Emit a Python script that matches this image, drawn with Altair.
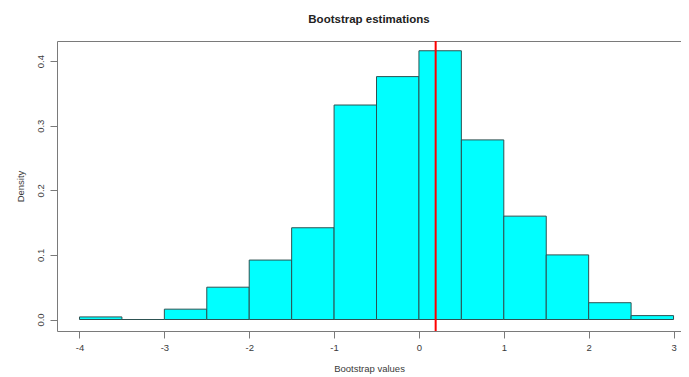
import altair as alt
import pandas as pd

bin_start = [-4.0, -3.5, -3.0, -2.5, -2.0, -1.5, -1.0, -0.5, 0.0, 0.5, 1.0, 1.5, 2.0, 2.5]
density = [0.004, 0.0, 0.016, 0.050, 0.092, 0.142, 0.332, 0.376, 0.416, 0.278, 0.160, 0.100, 0.026, 0.006]
bin_width = 0.5
estimate = 0.197
x_ticks = [-4, -3, -2, -1, 0, 1, 2, 3]
y_ticks = [0.0, 0.1, 0.2, 0.3, 0.4]

df = pd.DataFrame({
    "start": bin_start,
    "end": [b + bin_width for b in bin_start],
    "density": density,
    "zero": [0.0] * len(bin_start),
})

xscale = alt.Scale(domain=[-4.265, 3.088], nice=False, zero=False)
yscale = alt.Scale(domain=[-0.0178, 0.4311], nice=False, zero=False)

FONT = "Liberation Sans"
GREY = "#7a7a7a"
LBL = "#3a3a3a"

bars = alt.Chart(df).mark_rect(
    fill="#00FFFF", stroke="#2e5252", strokeWidth=1
).encode(
    x=alt.X("start:Q", scale=xscale, title="Bootstrap values",
            axis=alt.Axis(values=x_ticks, labelExpr="toString(datum.value)", domain=True,
                          domainColor=GREY, grid=False, tickSize=7, tickColor=GREY,
                          labelPadding=4, labelFontSize=9.5, labelColor=LBL, labelFont=FONT,
                          titleFont=FONT, titleFontSize=9.5, titleFontWeight="normal",
                          titleColor=LBL, titlePadding=12)),
    x2="end:Q",
    y=alt.Y("density:Q", scale=yscale, title="Density",
            axis=alt.Axis(values=y_ticks, format=".1f", domain=True, domainColor=GREY,
                          grid=False, tickSize=7, tickColor=GREY, labelAngle=270,
                          labelAlign="center", labelBaseline="bottom", labelPadding=5,
                          labelFontSize=9.5, labelColor=LBL, labelFont=FONT,
                          titleFont=FONT, titleFontSize=9.5, titleFontWeight="normal",
                          titleColor=LBL, titlePadding=10)),
    y2="zero:Q",
)

line = alt.Chart(pd.DataFrame({"est": [estimate]})).mark_rule(
    color="#ff0000", strokeWidth=2
).encode(x=alt.X("est:Q", scale=xscale,
                 axis=alt.Axis(orient="top", labels=False, ticks=False, title=None,
                               domain=True, domainColor=GREY, grid=False)))

chart = alt.layer(bars, line).resolve_axis(x="independent").properties(
    width=624,
    height=290,
    autosize=alt.AutoSizeParams(type="none"),
    padding={"left": 49, "top": 33, "right": 0, "bottom": 46},
    title=alt.TitleParams("Bootstrap estimations", font=FONT, fontSize=11.5,
                          fontWeight="bold", color="#222222", anchor="middle",
                          offset=15),
).configure_view(stroke=None)

chart.save("out.html", embed_options={"renderer": "svg", "actions": False})
